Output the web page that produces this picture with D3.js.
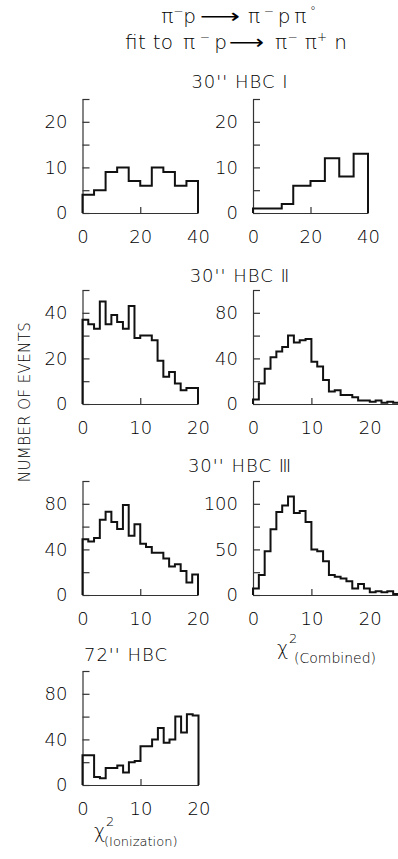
<!DOCTYPE html>
<html>
<head>
<meta charset="utf-8">
<script src="https://cdn.jsdelivr.net/npm/d3@7/dist/d3.min.js"></script>
<style>
  html, body { margin: 0; padding: 0; background: #fff; }
  svg { display: block; }
</style>
</head>
<body>
<svg id="chart"></svg>
<script>
// chi-squared distributions for pi- p -> pi- p pi0 events fitted as pi- pi+ n

// bin edges
const edgesBy4 = [0, 4, 8, 12, 16, 20, 24, 28, 32, 36, 40];
const edgesHbc1Comb = [0, 10, 14, 20, 25, 30, 35, 40];
const edgesUnit20 = [0, 1, 2, 3, 4, 5, 6, 7, 8, 9, 10, 11, 12, 13, 14, 15, 16, 17, 18, 19, 20];
const edgesUnit25 = [0, 1, 2, 3, 4, 5, 6, 7, 8, 9, 10, 11, 12, 13, 14, 15, 16, 17, 18, 19, 20, 21, 22, 23, 24, 25];

// counts per bin
const hbc1Ion = [4, 5, 9, 10, 7, 6, 10, 9, 6, 7];
const hbc1Comb = [1, 2, 6, 7, 12, 8, 13];
const hbc2Ion = [37, 35, 33, 45, 35, 39, 36, 33, 43, 29, 30, 30, 28, 19, 12, 14, 9, 6, 7, 7];
const hbc2Comb = [4, 18, 31, 41, 46, 50, 60, 54, 56, 57, 37, 33, 21, 11, 12, 8, 8, 6, 3, 3, 2, 3, 1, 2, 1];
const hbc3Ion = [49, 47, 50, 66, 73, 64, 58, 79, 52, 62, 45, 42, 37, 37, 32, 25, 27, 21, 11, 18];
const hbc3Comb = [7, 22, 48, 72, 91, 98, 108, 90, 92, 80, 50, 48, 37, 22, 20, 18, 15, 7, 12, 7, 3, 4, 3, 4, 1];
const hbc72Ion = [26, 26, 7, 6, 15, 15, 17, 11, 20, 21, 34, 34, 40, 50, 37, 40, 60, 46, 62, 61];

// tick labels
const xLabels40 = [0, 20, 40];
const xLabels20 = [0, 10, 20];
const yLabels20 = [0, 10, 20];
const yLabels40 = [0, 20, 40];
const yLabels80 = [0, 40, 80];
const yLabels100 = [0, 50, 100];

const panelTitles = ["30'' HBC \u2160", "30'' HBC \u2161", "30'' HBC \u2162", "72'' HBC"];

// Layout
const W = 398, H = 859;
const FONT = "'DejaVu Sans', sans-serif";
const rowBottom = [213, 404, 595, 785];
const axisH = 114;
const colLeft = [82.5, 253];
const INK = "#000";
const AXIS = "#333";

const panels = [
  { row: 0, col: 0, edges: edgesBy4, counts: hbc1Ion, xDom: [0, 40], xLen: 115.5, xLabels: xLabels40, xMid: 20, yTop: 25, yStep: 5, yLabels: yLabels20 },
  { row: 0, col: 1, edges: edgesHbc1Comb, counts: hbc1Comb, xDom: [0, 40], xLen: 115, xLabels: xLabels40, xMid: 20, yTop: 25, yStep: 5, yLabels: yLabels20 },
  { row: 1, col: 0, edges: edgesUnit20, counts: hbc2Ion, xDom: [0, 20], xLen: 115.5, xLabels: xLabels20, xMid: 10, yTop: 50, yStep: 10, yLabels: yLabels40 },
  { row: 1, col: 1, edges: edgesUnit25, counts: hbc2Comb, xDom: [0, 25], xLen: 146, xLabels: xLabels20, xMid: 10, yTop: 100, yStep: 20, yLabels: yLabels80 },
  { row: 2, col: 0, edges: edgesUnit20, counts: hbc3Ion, xDom: [0, 20], xLen: 115.5, xLabels: xLabels20, xMid: 10, yTop: 100, yStep: 20, yLabels: yLabels80 },
  { row: 2, col: 1, edges: edgesUnit25, counts: hbc3Comb, xDom: [0, 25], xLen: 146, xLabels: xLabels20, xMid: 10, yTop: 125, yStep: 25, yLabels: yLabels100 },
  { row: 3, col: 0, edges: edgesUnit20, counts: hbc72Ion, xDom: [0, 20], xLen: 116, xLabels: xLabels20, xMid: 10, yTop: 100, yStep: 20, yLabels: yLabels80 },
];

const svg = d3.select("#chart").attr("width", W).attr("height", H);
svg.append("rect").attr("width", W).attr("height", H).attr("fill", "#fff");

const g = svg.append("g")
  .attr("font-family", FONT)
  .attr("fill", INK);

panels.forEach(drawPanel);

function drawPanel(p) {
  const x0 = colLeft[p.col];
  const yb = rowBottom[p.row];
  const x = d3.scaleLinear().domain(p.xDom).range([x0, x0 + p.xLen]);
  const y = d3.scaleLinear().domain([0, p.yTop]).range([yb, yb - axisH]);

  // y axis, ticks pointing inward
  const yAxis = d3.axisLeft(y)
    .tickValues(d3.range(0, p.yTop + 0.001, p.yStep))
    .tickSize(-7)
    .tickSizeOuter(0)
    .tickPadding(15)
    .tickFormat((d) => (p.yLabels.includes(d) ? d : ""));
  const ya = g.append("g").attr("transform", `translate(${x0},0)`).call(yAxis);

  // x axis with labels only
  const xAxis = d3.axisBottom(x).tickValues(p.xLabels).tickSize(0).tickSizeOuter(0).tickPadding(17);
  const xa = g.append("g").attr("transform", `translate(0,${yb})`).call(xAxis);

  // single inward tick in the middle of the x axis
  const xMidAxis = d3.axisBottom(x).tickValues([p.xMid]).tickSize(-6).tickFormat("");
  const xm = g.append("g").attr("transform", `translate(0,${yb})`).call(xMidAxis);
  xm.select(".domain").remove();

  [ya, xa, xm].forEach((a) => {
    a.selectAll("path,line").attr("stroke", AXIS).attr("stroke-width", 1.2);
    a.selectAll("text")
      .attr("font-family", FONT)
      .attr("font-size", 18)
      .attr("font-weight", 200)
      .attr("fill", INK);
  });

  // histogram outline
  const pts = [[p.edges[0], 0]];
  p.counts.forEach((c, i) => {
    pts.push([p.edges[i], c]);
    pts.push([p.edges[i + 1], c]);
  });
  pts.push([p.edges[p.edges.length - 1], 0]);

  const line = d3.line().x((d) => x(d[0])).y((d) => y(d[1]));
  g.append("path")
    .attr("d", line(pts))
    .attr("fill", "none")
    .attr("stroke", "#111")
    .attr("stroke-width", 2)
    .attr("stroke-linejoin", "miter");
}

// text helper
function label(x, y, size, anchor) {
  return g.append("text")
    .attr("x", x)
    .attr("y", y)
    .attr("font-size", size)
    .attr("font-weight", 200)
    .attr("text-anchor", anchor || "middle");
}

// text with superscripts: parts = [[text, isSup], ...]
function particles(x, y, parts, len, anchor) {
  const t = label(x, y, 20, anchor || "start");
  let up = false;
  parts.forEach(([s, isSup]) => {
    const ts = t.append("tspan").text(s);
    if (isSup && !up) { ts.attr("dy", -8).attr("font-size", 12); up = true; }
    else if (isSup) { ts.attr("font-size", 12); }
    else if (up) { ts.attr("dy", 8); up = false; }
  });
  if (len) t.attr("textLength", len).attr("lengthAdjust", "spacing");
  return t;
}

function arrow(x, y, len) {
  label(x, y, 20, "start")
    .attr("font-weight", 400)
    .attr("textLength", len)
    .attr("lengthAdjust", "spacingAndGlyphs")
    .text("\u27f6");
}

// reaction, line 1
particles(196, 23, [["\u03c0"], ["\u2212", true], ["p"]], null, "end");
arrow(200, 23, 40);
particles(248, 23, [["\u03c0"], ["\u2212", true], ["p\u03c0"], ["\u00b0", true]], 68);

// line 2
label(125, 49, 20, "start").attr("textLength", 48).attr("lengthAdjust", "spacing").text("fit to");
particles(183, 49, [["\u03c0"], ["\u2212", true], ["p"]], 44);
arrow(229, 49, 35);
particles(275, 49, [["\u03c0"], ["\u2212", true], [" \u03c0"], ["+", true], [" n"]], 72);

// panel titles
label(240, 88, 18).attr("letter-spacing", 1).text(panelTitles[0]);
label(240, 282, 18).attr("letter-spacing", 1).text(panelTitles[1]);
label(240, 472, 18).attr("letter-spacing", 1).text(panelTitles[2]);
label(126, 661, 18).attr("letter-spacing", 1).text(panelTitles[3]);

// y axis title
g.append("text")
  .attr("transform", "translate(30,402) rotate(-90)")
  .attr("text-anchor", "middle")
  .attr("font-size", 15)
  .attr("font-weight", 200)
  .attr("letter-spacing", 0.4)
  .text("NUMBER OF EVENTS");

// chi-squared labels
label(277, 655, 19, "start").text("\u03c7");
label(289, 643, 13, "start").text("2");
label(294, 663, 14, "start").text("(Combined)");

label(94, 838, 19, "start").text("\u03c7");
label(106, 826, 13, "start").text("2");
label(104, 846, 13, "start").text("(Ionization)");
</script>
</body>
</html>
